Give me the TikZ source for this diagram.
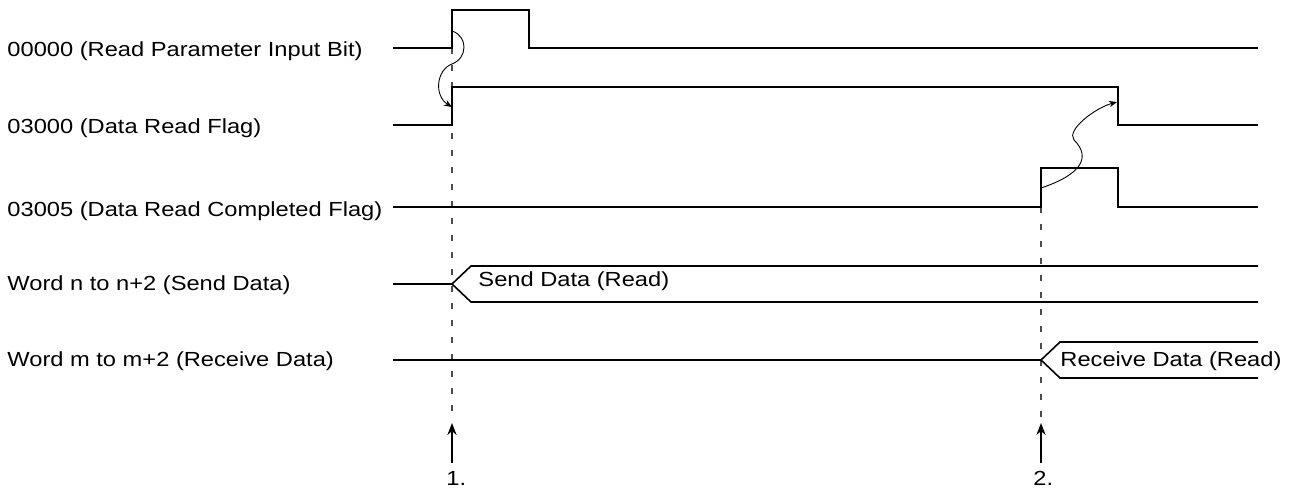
\documentclass[tikz,border=0pt]{standalone}
\usepackage{fontspec}
\setmainfont{Liberation Sans}
\usetikzlibrary{arrows.meta}

\begin{document}
\begin{tikzpicture}[
    x=0.5pt, y=-0.5pt,
    every node/.style={font=\fontsize{10.2}{12}\selectfont, inner sep=0pt, xscale=1.16},
    siglabel/.style={anchor=base west},
    sigline/.style={line width=0.8pt, line join=miter},
    guide/.style={gray!60!black, line width=0.6pt, dash pattern=on 3pt off 5.5pt},
    cause/.style={line width=0.45pt, -{Stealth[length=4pt, width=3.2pt]}},
    pointer/.style={line width=0.95pt, -{Stealth[length=6pt, width=4.6pt]}},
]

\def\xs{393}     % where every trace starts
\def\xe{1258}    % where every trace ends
\def\xa{452}     % moment 1
\def\xb{1041}    % moment 2

\useasboundingbox (0,0) rectangle (1293,490);

% ---------------------------------------------------------------- guides
\draw[guide] (\xa,48) -- (\xa,420);
\draw[guide] (\xb,207) -- (\xb,420);

% ---------------------------------------------------------------- labels
\node[siglabel] (l1) at (7,57)  {00000 (Read Parameter Input Bit)};
\node[siglabel] (l2) at (7,134) {03000 (Data Read Flag)};
\node[siglabel] (l3) at (7,217) {03005 (Data Read Completed Flag)};
\node[siglabel] (l4) at (7,291) {Word n to n+2 (Send Data)};
\node[siglabel] (l5) at (7,367) {Word m to m+2 (Receive Data)};

% ---------------------------------------------------------------- bit traces
\draw[sigline] (\xs,48) -- (\xa,48) -- (\xa,10) -- (529,10) -- (529,48) -- (\xe,48);
\draw[sigline] (\xs,125) -- (\xa,125) -- (\xa,87) -- (1118,87) -- (1118,125) -- (\xe,125);
\draw[sigline] (\xs,207) -- (\xb,207) -- (\xb,168) -- (1118,168) -- (1118,207) -- (\xe,207);

% ---------------------------------------------------------------- word traces
\draw[sigline] (\xs,284) -- (\xa,284);
\draw[sigline] (\xe,266) -- (471,266) -- (\xa,284) -- (471,302) -- (\xe,302);
\node[siglabel] (d1) at (478,287) {Send Data (Read)};

\draw[sigline] (\xs,360) -- (\xb,360);
\draw[sigline] (\xe,342) -- (1060,342) -- (\xb,360) -- (1060,378) -- (\xe,378);
\node[siglabel] (d2) at (1060,367) {Receive Data (Read)};

% ---------------------------------------------------------------- causes
\draw[cause] (\xa,31) .. controls (468,36) and (468,58) .. (\xa,64)
                     .. controls (436,70) and (434,96) .. (\xa,107);
\draw[cause] (\xb,188) .. controls (1080,175) and (1092,158) .. (1074,140)
                      .. controls (1066,130) and (1095,108) .. (1117,102);

% ---------------------------------------------------------------- moments
\node[siglabel] (n1) at (446,486)  {1.};
\node[siglabel] (n2) at (1033,486) {2.};
\coordinate (b1) at (\xa,463);
\coordinate (t1) at (\xa,423);
\coordinate (b2) at (\xb,463);
\coordinate (t2) at (\xb,423);
\draw[pointer] (b1) -- (t1);
\draw[pointer] (b2) -- (t2);

\end{tikzpicture}
\end{document}
